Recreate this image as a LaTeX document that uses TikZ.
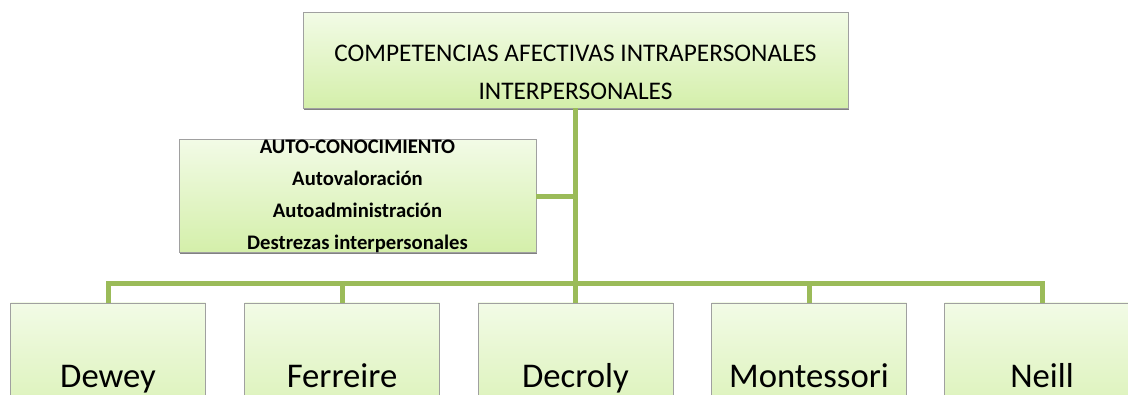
\documentclass[tikz,border=0pt]{standalone}
\usepackage{fontspec}
\setmainfont{Carlito}
\usetikzlibrary{shadows}
\definecolor{boxtop}{RGB}{242,251,230}
\definecolor{boxbot}{RGB}{212,239,170}
\definecolor{linkgreen}{RGB}{155,187,89}
\definecolor{boxedge}{RGB}{160,160,160}
\begin{document}
\begin{tikzpicture}[x=0.75pt,y=0.75pt,
  box/.style={rectangle, draw=boxedge, line width=0.6pt, top color=boxtop, bottom color=boxbot,
    inner sep=0pt, align=center, text=black,
    drop shadow={shadow xshift=0.5pt, shadow yshift=-1.3pt, fill=black!55, opacity=0.9}},
  bottombox/.style={box, minimum width=146.25pt, minimum height=108.75pt, anchor=north,
    text height=22pt, text depth=4pt, font=\fontsize{26}{30}\selectfont},
  link/.style={draw=linkgreen, line width=3.75pt, line join=miter}]
\useasboundingbox (0,0) rectangle (1128,-394);
\clip (0,0) rectangle (1128,-394);
% top box
\node[box, minimum width=408.75pt, minimum height=71.6pt] (top) at (575.5,-60.25) {};
\node[align=center, inner sep=0pt, font=\fontsize{19}{28.5}\selectfont] (toptext) at (575.5,-72)
  {COMPETENCIAS AFECTIVAS INTRAPERSONALES\\INTERPERSONALES};
% left box
\node[box, minimum width=267.75pt, minimum height=84pt, font=\bfseries\fontsize{15.5}{24}\selectfont]
  (left) at (357.5,-196)
  {AUTO-CONOCIMIENTO\\Autovaloración\\Autoadministración\\Destrezas interpersonales};
% bottom boxes
\node[bottombox] (d1) at (108,-302.5) {Dewey};
\node[bottombox] (d2) at (342,-302.5) {Ferreire};
\node[bottombox] (d3) at (575.5,-302.5) {Decroly};
\node[bottombox] (d4) at (809,-302.5) {Montessori};
\node[bottombox] (d5) at (1042,-302.5) {Neill};
% connectors
\coordinate (bar) at (575.5,-283);
\draw[link] (top.south) -- (d3.north);
\draw[link] (left.east) -- (left.east -| top.south);
\draw[link] (d1.north) |- (bar) -| (d5.north);
\draw[link] (d2.north) -- (d2.north |- bar);
\draw[link] (d4.north) -- (d4.north |- bar);
\end{tikzpicture}
\end{document}
